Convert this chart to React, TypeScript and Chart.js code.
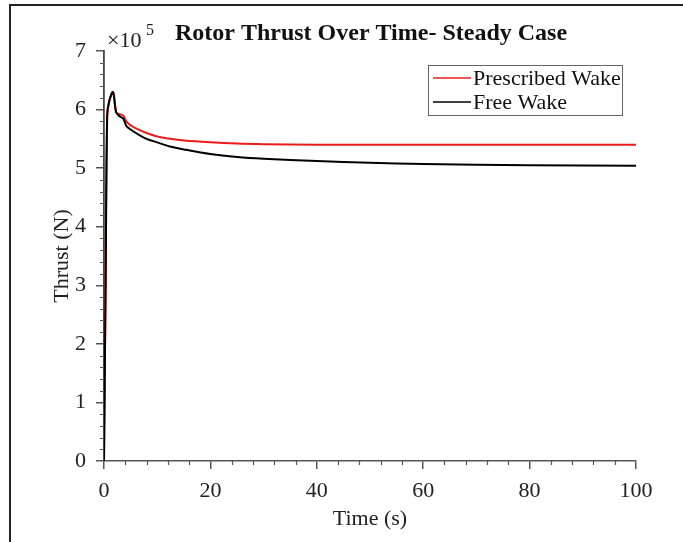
import React, { useEffect, useRef } from "react";
import { Chart, registerables } from "chart.js";

Chart.register(...registerables);

// Time (s)
const timePrescribed = [0, 0.3, 0.6, 1.0, 1.7, 2.3, 3.0, 3.6, 4.2, 5, 6, 8, 10, 12.4, 15, 20, 25, 30, 40, 60, 80, 100];
// Thrust (N)
const thrustPrescribed = [0, 300000, 590000, 615000, 630000, 595000, 592000, 590000, 580000, 573000, 568000, 560000, 554000, 550000, 547000, 544000, 542000, 541000, 540000, 540000, 540000, 540000];

const timeFree = [0, 0.3, 0.6, 1.0, 1.7, 2.3, 3.0, 3.6, 4.2, 5, 6, 8, 10, 12.4, 15, 20, 25, 30, 40, 50, 60, 80, 100];
const thrustFree = [0, 300000, 590000, 615000, 630000, 595000, 588000, 585000, 572000, 566000, 560000, 550000, 544000, 537000, 532000, 524000, 519000, 516000, 512000, 509000, 507000, 505000, 504000];

const xTicks = [0, 20, 40, 60, 80, 100];
const yTicks = [0, 1, 2, 3, 4, 5, 6, 7];

const seriesNames = ["Prescribed Wake", "Free Wake"];
const seriesColors = ["rgb(232,28,28)", "#000000"];

const FONT = "'Liberation Serif', 'Times New Roman', serif";

const decorPlugin = {
  id: "decor",
  afterDraw(chart: any) {
    const { ctx, scales } = chart;
    const xs = scales.x;
    const ys = scales.y;
    ctx.save();
    // minor ticks
    ctx.strokeStyle = "#555";
    ctx.lineWidth = 1.2;
    ctx.beginPath();
    for (let v = 0; v <= 100; v += 4) {
      if (v % 20 === 0) continue;
      const px = Math.round(xs.getPixelForValue(v)) + 0.5;
      ctx.moveTo(px, xs.top);
      ctx.lineTo(px, xs.top + 4);
    }
    for (let v = 0; v <= 700000; v += 20000) {
      if (v % 100000 === 0) continue;
      const py = Math.round(ys.getPixelForValue(v)) + 0.5;
      ctx.moveTo(ys.right, py);
      ctx.lineTo(ys.right - 4, py);
    }
    ctx.stroke();

    // title
    ctx.fillStyle = "#111";
    ctx.font = `bold 24px ${FONT}`;
    ctx.textAlign = "center";
    ctx.textBaseline = "middle";
    ctx.fillText("Rotor Thrust Over Time- Steady Case", 371, 34);

    // exponent
    ctx.font = `22px ${FONT}`;
    ctx.textAlign = "left";
    ctx.fillStyle = "#222";
    ctx.fillText("×10", 107, 41);
    ctx.font = `16px ${FONT}`;
    ctx.fillText("5", 146, 31);

    // legend
    const bx = 428, by = 65, bw = 194, bh = 50;
    ctx.strokeStyle = "#666";
    ctx.lineWidth = 1;
    ctx.strokeRect(bx + 0.5, by + 0.5, bw, bh);
    const rows = [78, 102];
    ctx.font = `22px ${FONT}`;
    ctx.textBaseline = "middle";
    for (let i = 0; i < seriesNames.length; i++) {
      ctx.strokeStyle = seriesColors[i];
      ctx.lineWidth = 1.5;
      ctx.beginPath();
      ctx.moveTo(433, rows[i]);
      ctx.lineTo(471, rows[i]);
      ctx.stroke();
      ctx.fillStyle = "#111";
      ctx.fillText(seriesNames[i], 473, rows[i] + 1);
    }
    ctx.restore();
  },
};

export default function App() {
  const ref = useRef<HTMLCanvasElement | null>(null);
  useEffect(() => {
    if (!ref.current) return;
    const chart = new Chart(ref.current, {
      type: "line",
      data: {
        datasets: [
          {
            label: seriesNames[0],
            data: timePrescribed.map((t, i) => ({ x: t, y: thrustPrescribed[i] })),
            borderColor: seriesColors[0],
            borderWidth: 2,
            pointRadius: 0,
            tension: 0.3,
            fill: false,
            order: 1,
          },
          {
            label: seriesNames[1],
            data: timeFree.map((t, i) => ({ x: t, y: thrustFree[i] })),
            borderColor: seriesColors[1],
            borderWidth: 2,
            pointRadius: 0,
            tension: 0.3,
            fill: false,
            order: 0,
          },
        ],
      },
      options: {
        animation: false,
        responsive: false,
        layout: { padding: { left: 0, top: 51, right: 47, bottom: 0 } },
        plugins: {
          legend: { display: false },
          title: { display: false },
          tooltip: { enabled: false },
        },
        scales: {
          x: {
            type: "linear",
            min: 0,
            max: 100,
            afterBuildTicks: (s: any) => {
              s.ticks = xTicks.map((v) => ({ value: v }));
            },
            afterFit: (s: any) => {
              s.height = 81;
            },
            ticks: {
              font: { family: FONT, size: 22 },
              color: "#222",
              padding: 9,
              maxRotation: 0,
            },
            grid: { drawOnChartArea: false, tickLength: 8, color: "#555", lineWidth: 1.5 },
            border: { color: "#555", width: 1.5 },
            title: {
              display: true,
              text: "Time (s)",
              font: { family: FONT, size: 22 },
              color: "#222",
              padding: { top: 0, bottom: 10 },
            },
          },
          y: {
            type: "linear",
            min: 0,
            max: 700000,
            afterBuildTicks: (s: any) => {
              s.ticks = yTicks.map((v) => ({ value: v * 100000 }));
            },
            afterFit: (s: any) => {
              s.width = 104;
            },
            ticks: {
              font: { family: FONT, size: 22 },
              color: "#222",
              padding: 10,
              callback: (v: any) => String(Math.round(Number(v) / 100000)),
            },
            grid: { drawOnChartArea: false, tickLength: 8, color: "#555", lineWidth: 1.5 },
            border: { color: "#444", width: 1.8 },
            title: {
              display: true,
              text: "Thrust (N)",
              font: { family: FONT, size: 22 },
              color: "#222",
              padding: { top: 49, bottom: 0 },
            },
          },
        },
      },
      plugins: [decorPlugin],
    });
    return () => chart.destroy();
  }, []);

  return (
    <div style={{ position: "absolute", left: 0, top: 0, width: 683, height: 542, background: "#fff", overflow: "hidden" }}>
      <canvas ref={ref} width={683} height={542} style={{ position: "absolute", left: 0, top: 0 }} />
      <div
        style={{
          position: "absolute",
          left: 9,
          top: 4,
          width: 700,
          height: 600,
          borderTop: "2px solid #222",
          borderLeft: "2px solid #222",
          pointerEvents: "none",
        }}
      />
    </div>
  );
}
